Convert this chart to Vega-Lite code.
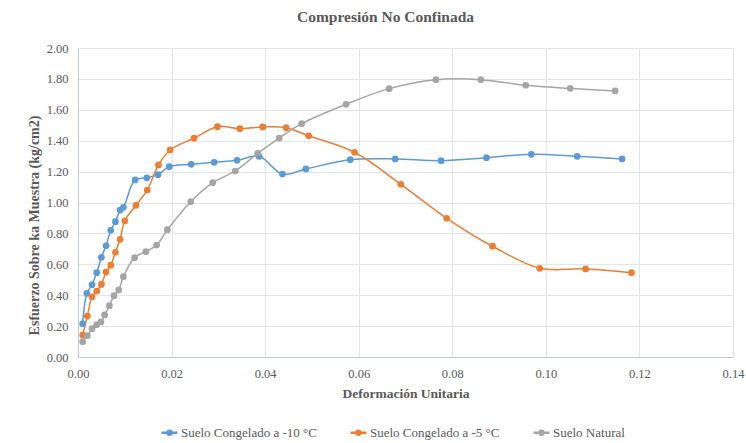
{
  "$schema": "https://vega.github.io/schema/vega-lite/v6.json",
  "width": 655,
  "height": 309,
  "autosize": "none",
  "padding": {"left": 78, "top": 48, "right": 13, "bottom": 86},
  "background": "white",
  "title": {
    "text": "Compresión  No Confinada",
    "font": "'Liberation Serif', 'Times New Roman', serif",
    "fontSize": 15.5,
    "fontWeight": "bold",
    "color": "#595959",
    "anchor": "middle",
    "dx": -20,
    "offset": 17
  },
  "data": {
    "values": [
      {"serie": "Suelo Congelado a -10 °C", "x": 0.0010, "y": 0.216},
      {"serie": "Suelo Congelado a -10 °C", "x": 0.0019, "y": 0.412},
      {"serie": "Suelo Congelado a -10 °C", "x": 0.0030, "y": 0.468},
      {"serie": "Suelo Congelado a -10 °C", "x": 0.0040, "y": 0.546},
      {"serie": "Suelo Congelado a -10 °C", "x": 0.0050, "y": 0.645},
      {"serie": "Suelo Congelado a -10 °C", "x": 0.0060, "y": 0.720},
      {"serie": "Suelo Congelado a -10 °C", "x": 0.0070, "y": 0.820},
      {"serie": "Suelo Congelado a -10 °C", "x": 0.0080, "y": 0.876},
      {"serie": "Suelo Congelado a -10 °C", "x": 0.0090, "y": 0.951},
      {"serie": "Suelo Congelado a -10 °C", "x": 0.0097, "y": 0.969},
      {"serie": "Suelo Congelado a -10 °C", "x": 0.0122, "y": 1.146},
      {"serie": "Suelo Congelado a -10 °C", "x": 0.0147, "y": 1.160},
      {"serie": "Suelo Congelado a -10 °C", "x": 0.0171, "y": 1.180},
      {"serie": "Suelo Congelado a -10 °C", "x": 0.0195, "y": 1.232},
      {"serie": "Suelo Congelado a -10 °C", "x": 0.0242, "y": 1.247},
      {"serie": "Suelo Congelado a -10 °C", "x": 0.0291, "y": 1.260},
      {"serie": "Suelo Congelado a -10 °C", "x": 0.0340, "y": 1.273},
      {"serie": "Suelo Congelado a -10 °C", "x": 0.0387, "y": 1.299},
      {"serie": "Suelo Congelado a -10 °C", "x": 0.0437, "y": 1.184},
      {"serie": "Suelo Congelado a -10 °C", "x": 0.0487, "y": 1.217},
      {"serie": "Suelo Congelado a -10 °C", "x": 0.0582, "y": 1.277},
      {"serie": "Suelo Congelado a -10 °C", "x": 0.0678, "y": 1.282},
      {"serie": "Suelo Congelado a -10 °C", "x": 0.0776, "y": 1.271},
      {"serie": "Suelo Congelado a -10 °C", "x": 0.0873, "y": 1.290},
      {"serie": "Suelo Congelado a -10 °C", "x": 0.0969, "y": 1.312},
      {"serie": "Suelo Congelado a -10 °C", "x": 0.1067, "y": 1.299},
      {"serie": "Suelo Congelado a -10 °C", "x": 0.1163, "y": 1.282},
      {"serie": "Suelo Congelado a -5 °C", "x": 0.0010, "y": 0.142},
      {"serie": "Suelo Congelado a -5 °C", "x": 0.0020, "y": 0.265},
      {"serie": "Suelo Congelado a -5 °C", "x": 0.0030, "y": 0.390},
      {"serie": "Suelo Congelado a -5 °C", "x": 0.0040, "y": 0.427},
      {"serie": "Suelo Congelado a -5 °C", "x": 0.0050, "y": 0.470},
      {"serie": "Suelo Congelado a -5 °C", "x": 0.0060, "y": 0.550},
      {"serie": "Suelo Congelado a -5 °C", "x": 0.0070, "y": 0.594},
      {"serie": "Suelo Congelado a -5 °C", "x": 0.0080, "y": 0.678},
      {"serie": "Suelo Congelado a -5 °C", "x": 0.0090, "y": 0.762},
      {"serie": "Suelo Congelado a -5 °C", "x": 0.0100, "y": 0.882},
      {"serie": "Suelo Congelado a -5 °C", "x": 0.0124, "y": 0.982},
      {"serie": "Suelo Congelado a -5 °C", "x": 0.0148, "y": 1.081},
      {"serie": "Suelo Congelado a -5 °C", "x": 0.0172, "y": 1.243},
      {"serie": "Suelo Congelado a -5 °C", "x": 0.0197, "y": 1.340},
      {"serie": "Suelo Congelado a -5 °C", "x": 0.0248, "y": 1.416},
      {"serie": "Suelo Congelado a -5 °C", "x": 0.0298, "y": 1.491},
      {"serie": "Suelo Congelado a -5 °C", "x": 0.0346, "y": 1.478},
      {"serie": "Suelo Congelado a -5 °C", "x": 0.0395, "y": 1.489},
      {"serie": "Suelo Congelado a -5 °C", "x": 0.0445, "y": 1.484},
      {"serie": "Suelo Congelado a -5 °C", "x": 0.0493, "y": 1.432},
      {"serie": "Suelo Congelado a -5 °C", "x": 0.0591, "y": 1.325},
      {"serie": "Suelo Congelado a -5 °C", "x": 0.0690, "y": 1.118},
      {"serie": "Suelo Congelado a -5 °C", "x": 0.0788, "y": 0.898},
      {"serie": "Suelo Congelado a -5 °C", "x": 0.0886, "y": 0.717},
      {"serie": "Suelo Congelado a -5 °C", "x": 0.0987, "y": 0.574},
      {"serie": "Suelo Congelado a -5 °C", "x": 0.1085, "y": 0.570},
      {"serie": "Suelo Congelado a -5 °C", "x": 0.1183, "y": 0.546},
      {"serie": "Suelo Natural", "x": 0.0010, "y": 0.099},
      {"serie": "Suelo Natural", "x": 0.0020, "y": 0.138},
      {"serie": "Suelo Natural", "x": 0.0030, "y": 0.183},
      {"serie": "Suelo Natural", "x": 0.0040, "y": 0.209},
      {"serie": "Suelo Natural", "x": 0.0049, "y": 0.227},
      {"serie": "Suelo Natural", "x": 0.0057, "y": 0.272},
      {"serie": "Suelo Natural", "x": 0.0067, "y": 0.332},
      {"serie": "Suelo Natural", "x": 0.0077, "y": 0.397},
      {"serie": "Suelo Natural", "x": 0.0087, "y": 0.434},
      {"serie": "Suelo Natural", "x": 0.0097, "y": 0.520},
      {"serie": "Suelo Natural", "x": 0.0121, "y": 0.643},
      {"serie": "Suelo Natural", "x": 0.0145, "y": 0.682},
      {"serie": "Suelo Natural", "x": 0.0168, "y": 0.725},
      {"serie": "Suelo Natural", "x": 0.0191, "y": 0.824},
      {"serie": "Suelo Natural", "x": 0.0241, "y": 1.005},
      {"serie": "Suelo Natural", "x": 0.0288, "y": 1.128},
      {"serie": "Suelo Natural", "x": 0.0336, "y": 1.204},
      {"serie": "Suelo Natural", "x": 0.0384, "y": 1.318},
      {"serie": "Suelo Natural", "x": 0.0430, "y": 1.417},
      {"serie": "Suelo Natural", "x": 0.0478, "y": 1.510},
      {"serie": "Suelo Natural", "x": 0.0573, "y": 1.636},
      {"serie": "Suelo Natural", "x": 0.0665, "y": 1.737},
      {"serie": "Suelo Natural", "x": 0.0765, "y": 1.795},
      {"serie": "Suelo Natural", "x": 0.0861, "y": 1.795},
      {"serie": "Suelo Natural", "x": 0.0957, "y": 1.759},
      {"serie": "Suelo Natural", "x": 0.1052, "y": 1.739},
      {"serie": "Suelo Natural", "x": 0.1148, "y": 1.722}
    ]
  },
  "mark": {
    "type": "line",
    "interpolate": "catmull-rom",
    "strokeWidth": 1.5,
    "point": {"filled": true, "size": 45, "opacity": 1}
  },
  "encoding": {
    "x": {
      "field": "x",
      "type": "quantitative",
      "scale": {"domain": [0, 0.14], "nice": false},
      "axis": {
        "title": "Deformación Unitaria",
        "values": [0, 0.02, 0.04, 0.06, 0.08, 0.1, 0.12, 0.14],
        "format": ".2f",
        "labelFont": "'Liberation Serif', 'Times New Roman', serif",
        "labelFontSize": 12.5,
        "labelColor": "#595959",
        "labelPadding": 10,
        "titleFont": "'Liberation Serif', 'Times New Roman', serif",
        "titleFontSize": 13.5,
        "titleFontWeight": "bold",
        "titleColor": "#595959",
        "titlePadding": 7,
        "ticks": false,
        "domainColor": "#BFC8D6",
        "gridColor": "#E2E5EA",
        "labelFlush": false
      }
    },
    "y": {
      "field": "y",
      "type": "quantitative",
      "scale": {"domain": [0, 2], "nice": false},
      "axis": {
        "title": "Esfuerzo Sobre ka Muestra  (kg/cm2)",
        "values": [0, 0.2, 0.4, 0.6, 0.8, 1.0, 1.2, 1.4, 1.6, 1.8, 2.0],
        "format": ".2f",
        "labelFont": "'Liberation Serif', 'Times New Roman', serif",
        "labelFontSize": 12.5,
        "labelColor": "#595959",
        "labelPadding": 10,
        "titleFont": "'Liberation Serif', 'Times New Roman', serif",
        "titleFontSize": 14,
        "titleFontWeight": "bold",
        "titleColor": "#595959",
        "titlePadding": 8,
        "titleY": 177,
        "titleX": -44,
        "titleAlign": "center",
        "titleBaseline": "middle",
        "ticks": false,
        "domainColor": "#BFC8D6",
        "gridColor": "#E2E5EA"
      }
    },
    "color": {
      "field": "serie",
      "type": "nominal",
      "sort": ["Suelo Congelado a -10 °C", "Suelo Congelado a -5 °C", "Suelo Natural"],
      "scale": {
        "domain": ["Suelo Congelado a -10 °C", "Suelo Congelado a -5 °C", "Suelo Natural"],
        "range": ["#5B9BD5", "#ED7D31", "#A5A5A5"]
      },
      "legend": {
        "title": null,
        "orient": "none",
        "legendX": 82,
        "legendY": 375,
        "direction": "horizontal",
        "labelFont": "'Liberation Serif', 'Times New Roman', serif",
        "labelFontSize": 13,
        "labelColor": "#595959",
        "symbolType": "M-1,0L1,0M-0.25,0A0.25,0.25 0 1,1 0.25,0A0.25,0.25 0 1,1 -0.25,0Z",
        "symbolSize": 250,
        "symbolStrokeWidth": 2.5,
        "columnPadding": 28,
        "labelOffset": 2
      }
    }
  },
  "config": {
    "view": {"stroke": null}
  }
}
